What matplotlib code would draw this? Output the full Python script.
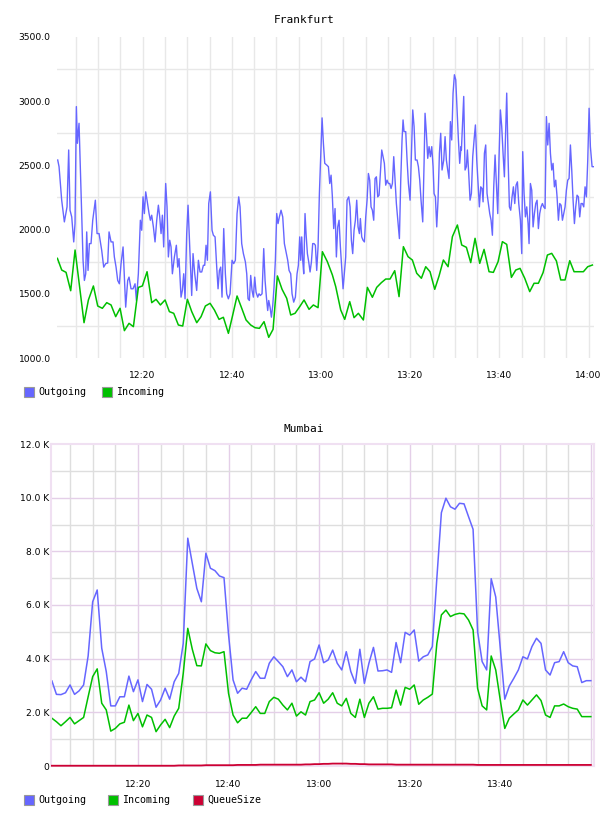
import matplotlib
matplotlib.use("Agg")
import matplotlib.pyplot as plt
from matplotlib.patches import Rectangle
import numpy as np

# ---- Frankfurt (minutes after 12:00) ----
fra_out_min = [0.96, 1.26, 1.85, 2.45, 3.05, 3.42, 3.72, 4.10, 4.55, 4.84, 5.14, 5.37, 5.74, 6.19, 6.64, 6.94, 7.24, 7.46, 7.76, 8.06,
               8.43, 8.81, 9.40, 9.78, 10.23, 10.82, 11.27, 11.72, 12.17, 12.47, 12.92, 13.36, 13.66, 14.04, 14.41, 14.78, 15.16, 15.61, 15.91, 16.20,
               16.65, 16.95, 17.40, 17.85, 18.30, 18.60, 19.04, 19.49, 19.79, 20.09, 20.39, 20.69, 20.99, 21.44, 21.73, 22.03, 22.41, 22.78, 23.16, 23.53,
               23.83, 24.13, 24.43, 24.72, 25.17, 25.47, 25.77, 26.07, 26.37, 26.67, 27.12, 27.56, 27.86, 28.16, 28.61, 28.91, 29.21, 29.51, 29.88, 30.18,
               30.55, 31.00, 31.30, 31.68, 32.12, 32.50, 32.87, 33.25, 33.62, 33.92, 34.22, 34.52, 34.82, 35.19, 35.56, 35.86, 36.24, 36.61, 36.91, 37.21,
               37.51, 37.80, 38.18, 38.55, 38.85, 39.22, 39.60, 40.05, 40.42, 40.79, 41.17, 41.54, 41.84, 42.21, 42.59, 43.04, 43.34, 43.63, 43.93, 44.23,
               44.53, 44.83, 45.13, 45.43, 45.80, 46.10, 46.40, 46.77, 47.15, 47.45, 47.75, 48.04, 48.27, 48.57, 48.87, 49.17, 49.46, 49.76, 50.06, 50.36,
               50.66, 51.03, 51.41, 51.78, 52.15, 52.53, 52.83, 53.20, 53.50, 53.87, 54.25, 54.62, 54.92, 55.22, 55.44, 55.67, 55.89, 56.12, 56.41, 56.64,
               56.94, 57.24, 57.54, 57.84, 58.13, 58.43, 58.73, 59.03, 59.33, 59.63, 59.93, 60.23, 60.53, 60.83, 61.27, 61.65, 61.95, 62.25, 62.54, 62.84,
               63.14, 63.44, 63.74, 64.04, 64.34, 64.64, 64.94, 65.23, 65.53, 65.83, 66.21, 66.51, 66.80, 67.10, 67.40, 67.70, 68.00, 68.30, 68.60, 68.82,
               69.12, 69.42, 69.72, 70.02, 70.32, 70.62, 70.91, 71.21, 71.51, 71.81, 72.11, 72.41, 72.71, 73.01, 73.31, 73.61, 73.90, 74.20, 74.50, 74.80,
               75.10, 75.40, 75.70, 76.00, 76.30, 76.60, 76.89, 77.27, 77.57, 77.87, 78.16, 78.39, 78.61, 78.99, 79.29, 79.59, 79.96, 80.26, 80.56, 80.86,
               81.15, 81.53, 81.83, 82.13, 82.42, 82.80, 83.10, 83.32, 83.62, 83.92, 84.22, 84.52, 84.82, 85.12, 85.34, 85.64, 85.94, 86.23, 86.54, 86.83,
               87.13, 87.51, 87.81, 88.10, 88.40, 88.70, 89.00, 89.30, 89.60, 89.90, 90.20, 90.50, 90.80, 91.09, 91.39, 91.47, 91.99, 92.29, 92.59, 92.81,
               93.11, 93.41, 93.71, 94.01, 94.31, 94.61, 94.91, 95.21, 95.50, 95.80, 96.10, 96.33, 96.63, 96.92, 97.22, 97.52, 97.82, 98.12, 98.42, 98.72,
               99.02, 99.32, 99.62, 99.91, 100.21, 100.51, 100.81, 101.11, 101.41, 101.63, 101.93, 102.23, 102.53, 102.83, 103.13, 103.43, 103.73, 104.03, 104.33, 104.70,
               105.00, 105.22, 105.52, 105.82, 106.12, 106.42, 106.64, 106.94, 107.24, 107.54, 107.84, 108.14, 108.44, 108.73, 109.03, 109.33, 109.63, 109.93, 110.23, 110.53,
               110.83, 111.13, 111.43, 111.73, 112.02, 112.32, 112.62, 112.92, 113.22, 113.52, 113.82, 114.12, 114.41, 114.71, 115.01, 115.31, 115.61, 115.91, 116.21, 116.51,
               116.81, 117.10, 117.40, 117.70, 118.00, 118.30, 118.60, 118.90, 119.20, 119.50, 119.80, 120.10, 120.39, 120.77, 121.07]
fra_out = [2542, 2490, 2229, 2060, 2177, 2620, 2151, 2099, 1904, 2047, 2958, 2672, 2828, 2281, 1761, 1604, 1656, 1982, 1682, 1891,
           1891, 2073, 2229, 1969, 1969, 1839, 1708, 1735, 1740, 1982, 1904, 1904, 1787, 1708, 1604, 1578, 1735, 1865, 1630, 1396,
           1604, 1630, 1539, 1539, 1578, 1448, 1656, 2073, 1995, 2255, 2125, 2294, 2229, 2125, 2073, 2112, 2021, 1904, 2073, 2190,
           2099, 1969, 2112, 1865, 2359, 2177, 1787, 1917, 1865, 1656, 1787, 1878, 1708, 1774, 1474, 1526, 1656, 1461, 1969, 2190,
           1865, 1487, 1813, 1656, 1526, 1761, 1670, 1670, 1722, 1722, 1878, 1761, 2203, 2294, 1995, 1956, 1943, 1708, 1539, 1682,
           1708, 1474, 2008, 1656, 1500, 1461, 1500, 1761, 1735, 1761, 2125, 2255, 2177, 1891, 1813, 1748, 1656, 1461, 1448, 1643,
           1526, 1474, 1630, 1513, 1474, 1500, 1487, 1500, 1852, 1604, 1474, 1370, 1448, 1396, 1318, 1409, 1552, 1761, 2125, 2047,
           2099, 2151, 2099, 1891, 1826, 1761, 1682, 1656, 1500, 1435, 1474, 1656, 1722, 1943, 1761, 1943, 1761, 1656, 2125, 1969,
           1813, 1748, 1670, 1748, 1891, 1891, 1878, 1682, 1865, 2281, 2571, 2870, 2672, 2516, 2503, 2490, 2359, 2424, 2255, 2008,
           2164, 1787, 2021, 2073, 1865, 1708, 1539, 1656, 1787, 2229, 2255, 2177, 1917, 1813, 1995, 2073, 2229, 2021, 1969, 2086,
           1943, 1917, 1904, 2099, 2229, 2437, 2385, 2177, 2151, 2073, 2398, 2411, 2255, 2268, 2437, 2620, 2568, 2516, 2346, 2385,
           2359, 2359, 2320, 2359, 2568, 2385, 2203, 2047, 1930, 2385, 2698, 2854, 2763, 2763, 2542, 2359, 2229, 2568, 2932, 2802,
           2542, 2542, 2490, 2385, 2229, 2060, 2516, 2906, 2750, 2555, 2646, 2568, 2646, 2490, 2281, 2255, 2021, 2229, 2594, 2750,
           2464, 2542, 2724, 2542, 2464, 2398, 2841, 2698, 3063, 3206, 3167, 2932, 2698, 2516, 2646, 2620, 3037, 2464, 2490, 2620,
           2437, 2229, 2281, 2568, 2698, 2815, 2542, 2359, 2177, 2333, 2320, 2216, 2594, 2659, 2281, 2203, 2125, 2073, 1956, 2333,
           2581, 2346, 2125, 2568, 2932, 2802, 2594, 2411, 2802, 3063, 2568, 2177, 2151, 2255, 2333, 2203, 2346, 2372, 2203, 2073,
           1813, 2607, 2281, 2099, 2177, 2047, 1891, 2359, 2307, 2021, 2125, 2203, 2229, 2008, 2125, 2177, 2203, 2177, 2164, 2880,
           2659, 2828, 2594, 2464, 2516, 2333, 2385, 2255, 2073, 2203, 2190, 2073, 2125, 2177, 2307, 2385, 2398, 2659, 2464, 2229,
           2047, 2177, 2268, 2255, 2099, 2203, 2203, 2177, 2333, 2255, 2542, 2945, 2646, 2490, 2490]

fra_in_min = [0.89, 1.86, 2.83, 3.87, 4.85, 6.86, 7.84, 8.96, 9.93, 10.97, 11.95, 12.92, 13.96, 14.94, 15.91, 16.95, 17.93, 19.05, 19.94, 20.99,
              22.04, 23.01, 23.98, 25.03, 26.00, 26.97, 28.01, 28.99, 30.03, 31.01, 32.13, 33.10, 34.07, 35.12, 36.09, 37.13, 38.10, 39.23, 40.20, 41.17,
              42.22, 43.19, 44.23, 45.20, 46.18, 47.22, 48.27, 49.24, 50.21, 51.26, 52.30, 53.20, 54.17, 55.22, 56.19, 57.31, 58.28, 59.33, 60.30, 61.42,
              62.54, 63.29, 64.41, 65.31, 66.43, 67.40, 68.37, 69.49, 70.39, 71.51, 72.48, 73.53, 74.50, 75.47, 76.52, 77.49, 78.46, 79.51, 80.48, 81.45,
              82.50, 83.47, 84.44, 85.49, 86.46, 87.43, 88.48, 89.45, 90.57, 91.54, 92.59, 93.56, 94.53, 95.58, 96.55, 97.67, 98.64, 99.69, 100.66, 101.63,
              102.68, 103.65, 104.62, 105.67, 106.79, 107.76, 108.73, 109.78, 110.75, 111.72, 112.77, 113.74, 114.71, 115.76, 116.73, 117.70, 118.82, 119.79, 120.84]
fra_in = [1776, 1685, 1667, 1524, 1841, 1275, 1452, 1561, 1405, 1387, 1431, 1413, 1322, 1387, 1213, 1270, 1244, 1550, 1561, 1672,
          1431, 1457, 1413, 1452, 1361, 1348, 1257, 1249, 1457, 1361, 1275, 1322, 1405, 1426, 1374, 1301, 1317, 1192, 1335, 1483,
          1387, 1296, 1257, 1236, 1231, 1283, 1161, 1223, 1639, 1535, 1465, 1335, 1348, 1400, 1452, 1379, 1413, 1392, 1828, 1750,
          1647, 1556, 1374, 1301, 1439, 1314, 1348, 1296, 1550, 1473, 1550, 1587, 1615, 1615, 1680, 1478, 1867, 1789, 1763, 1660,
          1621, 1711, 1672, 1535, 1639, 1763, 1711, 1945, 2036, 1880, 1862, 1743, 1932, 1737, 1846, 1672, 1667, 1750, 1906, 1885,
          1628, 1685, 1698, 1621, 1517, 1582, 1582, 1665, 1802, 1815, 1756, 1608, 1608, 1758, 1672, 1672, 1672, 1711, 1724]

fra_ticks = [20, 40, 60, 80, 100, 120]
fra_tick_labels = ['12:20', '12:40', '13:00', '13:20', '13:40', '14:00']

# ---- Mumbai (one sample per minute, thousands) ----
mum_min = np.arange(1, 121)
mum_out = [3.17, 2.67, 2.66, 2.73, 3.02, 2.67, 2.80, 3.02, 4.10, 6.12, 6.56, 4.39, 3.52, 2.24, 2.24, 2.58, 2.58, 3.35, 2.77, 3.21,
           2.40, 3.04, 2.86, 2.19, 2.46, 2.90, 2.49, 3.14, 3.45, 4.57, 8.49, 7.55, 6.62, 6.12, 7.93, 7.37, 7.28, 7.08, 7.02, 4.90,
           3.21, 2.71, 2.90, 2.86, 3.21, 3.52, 3.27, 3.27, 3.83, 4.07, 3.89, 3.70, 3.33, 3.58, 3.14, 3.31, 3.14, 3.89, 3.99, 4.51,
           3.85, 3.95, 4.32, 3.83, 3.58, 4.26, 3.52, 3.08, 4.35, 3.08, 3.83, 4.42, 3.54, 3.55, 3.58, 3.49, 4.60, 3.85, 4.98, 4.88,
           5.07, 3.91, 4.07, 4.14, 4.45, 7.00, 9.44, 9.98, 9.66, 9.57, 9.79, 9.77, 9.29, 8.82, 5.00, 3.89, 3.58, 6.98, 6.30, 4.40,
           2.49, 2.98, 3.27, 3.58, 4.07, 3.99, 4.45, 4.76, 4.57, 3.58, 3.39, 3.85, 3.89, 4.26, 3.85, 3.73, 3.70, 3.11, 3.18, 3.18]
mum_in = [1.78, 1.65, 1.50, 1.65, 1.81, 1.57, 1.69, 1.81, 2.58, 3.33, 3.62, 2.34, 2.09, 1.30, 1.40, 1.57, 1.63, 2.27, 1.69, 1.96,
          1.46, 1.90, 1.81, 1.28, 1.53, 1.74, 1.43, 1.86, 2.15, 3.45, 5.13, 4.35, 3.74, 3.73, 4.55, 4.30, 4.22, 4.20, 4.26, 2.71,
          1.90, 1.61, 1.78, 1.78, 1.99, 2.21, 1.96, 1.96, 2.40, 2.56, 2.49, 2.27, 2.09, 2.34, 1.86, 2.02, 1.90, 2.40, 2.46, 2.73,
          2.34, 2.49, 2.73, 2.34, 2.24, 2.52, 1.96, 1.81, 2.49, 1.81, 2.34, 2.58, 2.12, 2.15, 2.15, 2.17, 2.83, 2.27, 2.93, 2.86,
          3.02, 2.30, 2.46, 2.56, 2.68, 4.57, 5.63, 5.81, 5.57, 5.65, 5.69, 5.67, 5.44, 5.07, 2.89, 2.24, 2.09, 4.10, 3.58, 2.46,
          1.40, 1.78, 1.94, 2.09, 2.46, 2.27, 2.46, 2.65, 2.44, 1.90, 1.81, 2.24, 2.24, 2.31, 2.21, 2.15, 2.12, 1.84, 1.84, 1.84]
mum_queue = [0.01, 0.01, 0.01, 0.01, 0.01, 0.01, 0.01, 0.01, 0.01, 0.01, 0.01, 0.01, 0.01, 0.01, 0.01, 0.01, 0.01, 0.01, 0.01, 0.01,
             0.01, 0.01, 0.01, 0.01, 0.01, 0.01, 0.01, 0.01, 0.02, 0.02, 0.02, 0.02, 0.02, 0.02, 0.03, 0.03, 0.03, 0.03, 0.03, 0.03,
             0.03, 0.04, 0.04, 0.04, 0.04, 0.04, 0.05, 0.05, 0.05, 0.05, 0.05, 0.05, 0.05, 0.05, 0.05, 0.05, 0.06, 0.06, 0.07, 0.07,
             0.08, 0.08, 0.09, 0.09, 0.09, 0.09, 0.08, 0.08, 0.07, 0.07, 0.06, 0.06, 0.06, 0.06, 0.06, 0.06, 0.05, 0.05, 0.05, 0.05,
             0.05, 0.05, 0.05, 0.05, 0.05, 0.05, 0.05, 0.05, 0.05, 0.05, 0.05, 0.05, 0.05, 0.05, 0.04, 0.04, 0.04, 0.04, 0.04, 0.04,
             0.04, 0.04, 0.04, 0.04, 0.04, 0.04, 0.04, 0.04, 0.04, 0.04, 0.04, 0.04, 0.04, 0.04, 0.04, 0.04, 0.04, 0.04, 0.04, 0.04]

mum_ticks = [20, 40, 60, 80, 100]
mum_tick_labels = ['12:20', '12:40', '13:00', '13:20', '13:40']

BLUE = '#6666ff'
GREEN = '#00c000'
RED = '#cc0033'
GRID = '#e8e8e8'
MINOR = '#dedede'
PURPLE = '#e4cfe8'

W, H = 608, 816
fig = plt.figure(figsize=(W / 100, H / 100), dpi=100)


def px_axes(x0, y0, x1, y1):
    return fig.add_axes([x0 / W, 1 - y1 / H, (x1 - x0) / W, (y1 - y0) / H])


def legend_row(y, items):
    for x, color, label in items:
        fig.patches.append(Rectangle((x / W, 1 - (y + 5) / H), 10 / W, 10 / H, transform=fig.transFigure,
                                     facecolor=color, edgecolor='#999999', linewidth=0.8))
        fig.text((x + 14) / W, 1 - y / H, label, fontsize=7.2, family='DejaVu Sans Mono', va='center', ha='left')


# ---- top chart ----
ax = px_axes(57, 37, 594, 358)
ax.set_xlim(0.8, 121.2)
ax.set_ylim(1000, 3500)
for t in range(5, 121, 5):
    ax.axvline(t, color=GRID, lw=1, zorder=0)
for v in range(1250, 3500, 500):
    ax.axhline(v, color=GRID, lw=1, zorder=0)
ax.plot(fra_out_min, fra_out, color=BLUE, lw=1.0)
ax.plot(fra_in_min, fra_in, color=GREEN, lw=1.1)
for s in ax.spines.values():
    s.set_visible(False)
ax.set_xticks(fra_ticks)
ax.set_xticklabels(fra_tick_labels)
ax.set_yticks(range(1000, 3501, 500))
ax.set_yticklabels(['%.1f' % v for v in range(1000, 3501, 500)])
ax.tick_params(length=0, labelsize=6.6)
ax.tick_params(axis='x', pad=9)
ax.tick_params(axis='y', pad=4.5)
fig.text(304 / W, 1 - 20 / H, 'Frankfurt', fontsize=8, family='DejaVu Sans Mono', ha='center', va='center')
legend_row(392, [(24, BLUE, 'Outgoing'), (102, GREEN, 'Incoming')])

# ---- bottom chart ----
bx = px_axes(51, 444, 594, 766)
bx.set_xlim(0.8, 120.7)
bx.set_ylim(0, 12)
for t in range(5, 121, 5):
    bx.axvline(t, color=PURPLE if t % 20 == 0 else MINOR, lw=1, zorder=0)
for v in range(1, 12):
    bx.axhline(v, color=PURPLE if v % 2 == 0 else MINOR, lw=1, zorder=0)
bx.plot(mum_min, mum_out, color=BLUE, lw=1.1)
bx.plot(mum_min, mum_in, color=GREEN, lw=1.1)
bx.plot(mum_min, mum_queue, color=RED, lw=1.3, zorder=4, clip_on=False)
for s in bx.spines.values():
    s.set_color('#f0e0f2')
    s.set_linewidth(1.5)
bx.set_xticks(mum_ticks)
bx.set_xticklabels(mum_tick_labels)
bx.set_yticks(range(0, 13, 2))
bx.set_yticklabels(['0'] + ['%.1f K' % v for v in range(2, 13, 2)])
bx.tick_params(length=0, labelsize=6.6)
bx.tick_params(axis='x', pad=10)
bx.tick_params(axis='y', pad=1)
fig.text(304 / W, 1 - 429 / H, 'Mumbai', fontsize=8, family='DejaVu Sans Mono', ha='center', va='center')
legend_row(800, [(24, BLUE, 'Outgoing'), (108, GREEN, 'Incoming'), (193, RED, 'QueueSize')])

fig.savefig('out.png', dpi=100, facecolor='white')
